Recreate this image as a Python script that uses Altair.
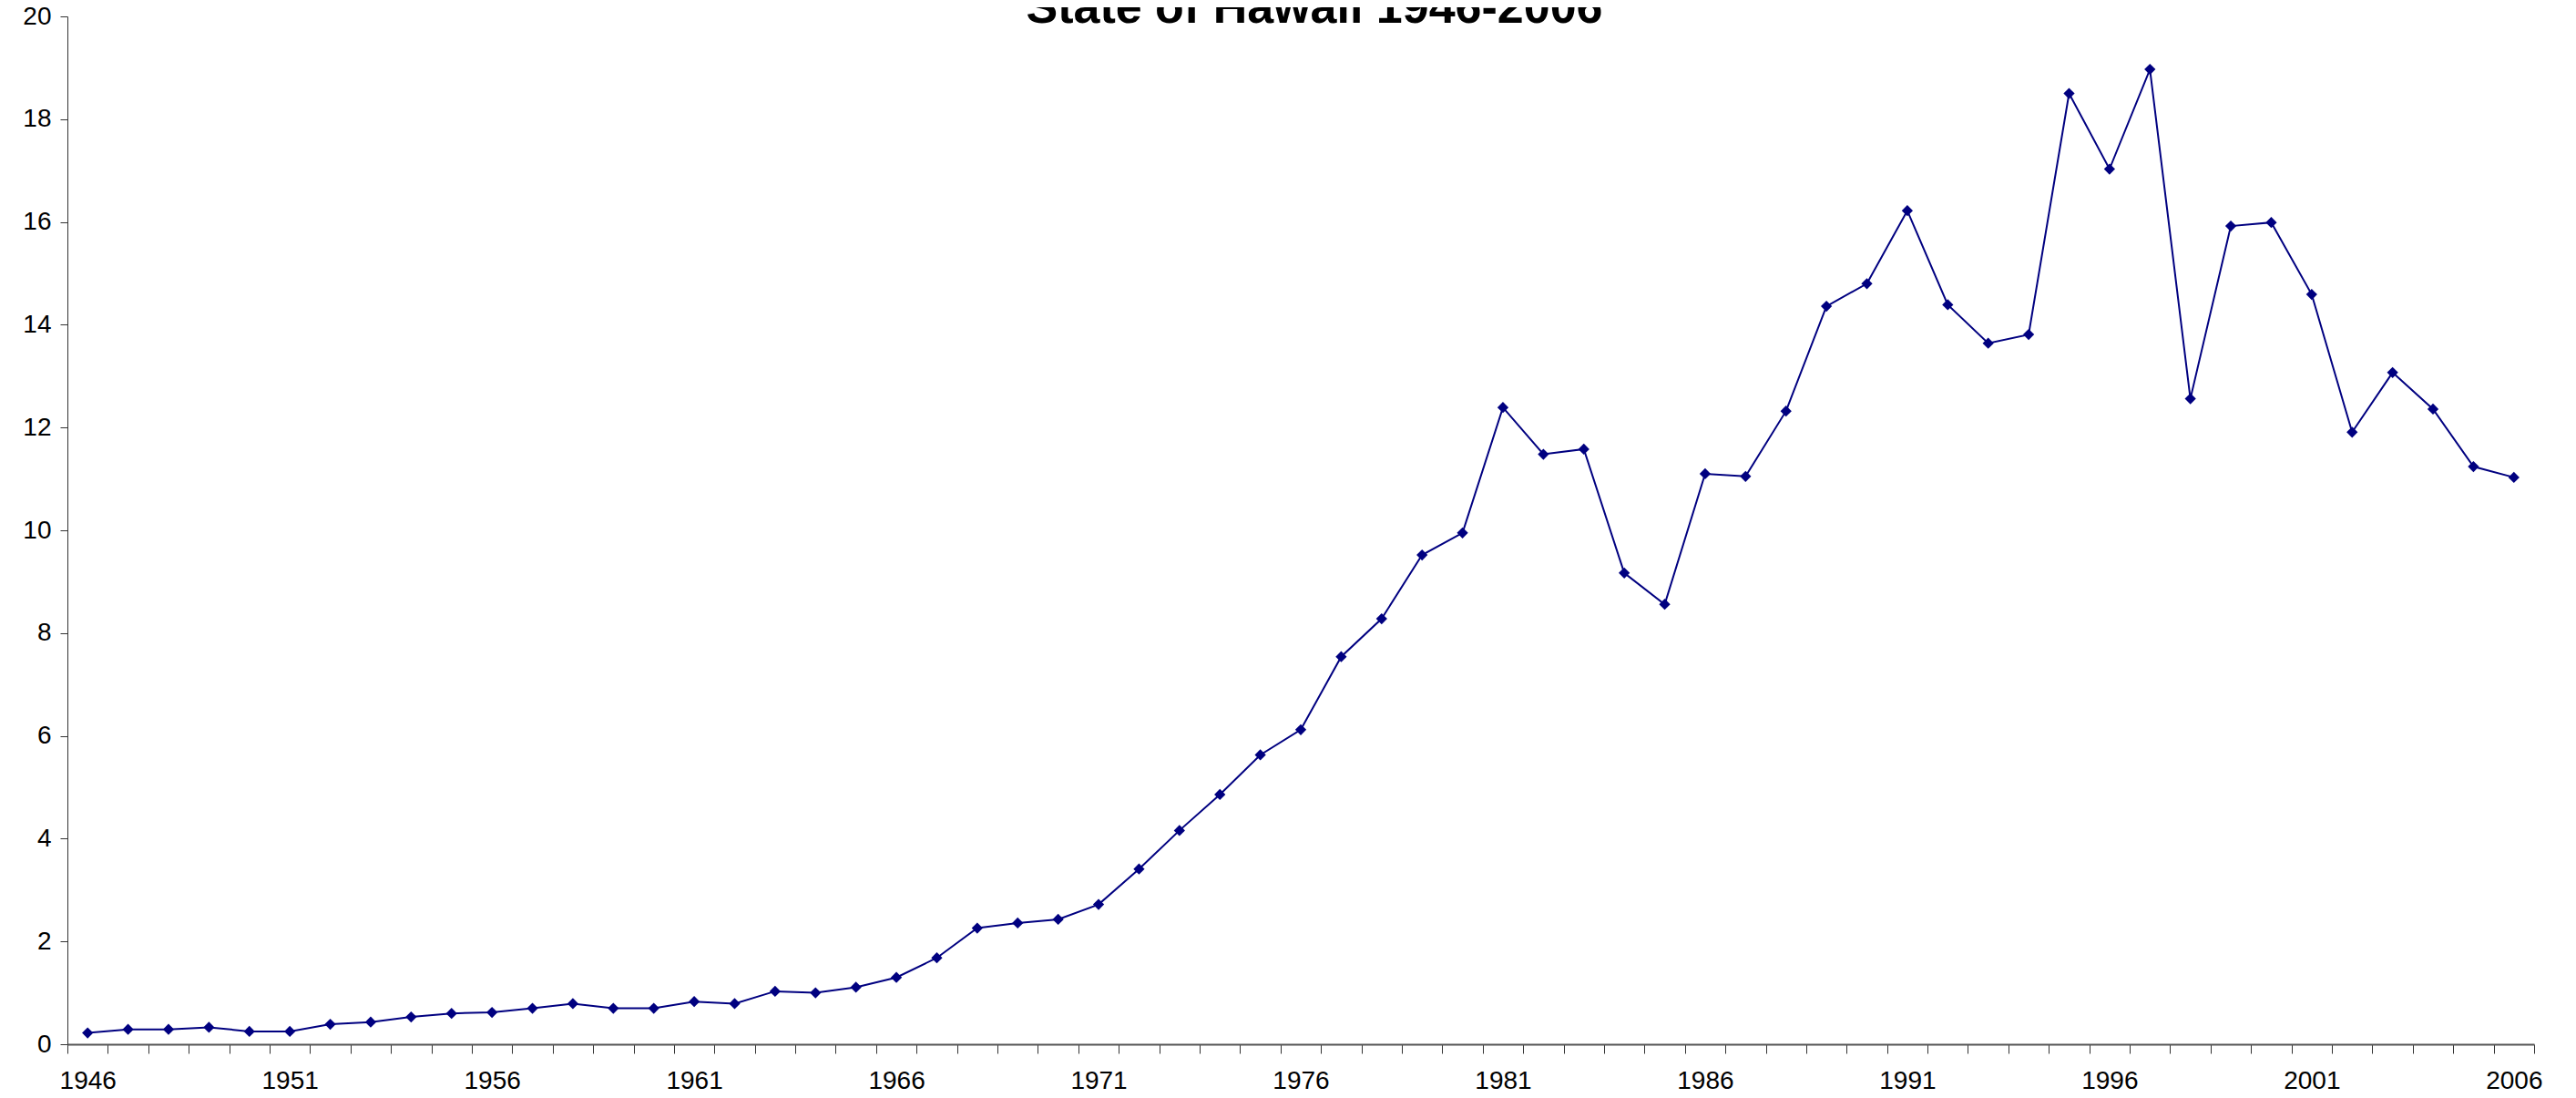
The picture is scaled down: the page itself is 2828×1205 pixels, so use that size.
import altair as alt
import pandas as pd

years = list(range(1946, 2007))
values = [
    0.22, 0.29, 0.29, 0.33, 0.25, 0.25, 0.39, 0.43, 0.53, 0.60,
    0.62, 0.70, 0.79, 0.70, 0.70, 0.83, 0.79, 1.03, 1.00, 1.11,
    1.30, 1.68, 2.26, 2.36, 2.43, 2.72, 3.41, 4.16, 4.86, 5.63,
    6.12, 7.54, 8.28, 9.52, 9.95, 12.39, 11.48, 11.58, 9.17, 8.56,
    11.10, 11.05, 12.32, 14.36, 14.80, 16.22, 14.39, 13.64, 13.81, 18.50,
    17.03, 18.97, 12.56, 15.92, 15.99, 14.59, 11.91, 13.07, 12.36, 11.24,
    11.03,
]
y_ticks = [0, 2, 4, 6, 8, 10, 12, 14, 16, 18, 20]
title_text = ["State of Hawaii 1946-2006"]

df = pd.DataFrame({"year": years, "value": values})
title_df = pd.DataFrame({"t": title_text})

FONT = "Liberation Sans"
NAVY = "#000080"

x_enc = alt.X(
    "year:O",
    scale=alt.Scale(paddingInner=0, paddingOuter=0),
    axis=alt.Axis(
        title=None,
        labelAngle=0,
        labelExpr="(datum.value - 1946) % 5 == 0 ? datum.label : ''",
        labelFont=FONT,
        labelFontSize=28,
        labelColor="#000000",
        labelPadding=16,
        tickBand="extent",
        tickSize=10,
        tickColor="#333333",
        domainColor="#555555",
        domainWidth=2,
        grid=False,
        labelOverlap=False,
    ),
)
y_enc = alt.Y(
    "value:Q",
    scale=alt.Scale(domain=[0, 20], nice=False),
    axis=alt.Axis(
        title=None,
        values=y_ticks,
        labelFont=FONT,
        labelFontSize=28,
        labelColor="#000000",
        labelPadding=10,
        tickSize=8,
        tickColor="#333333",
        domainColor="#333333",
        grid=False,
    ),
)

line = alt.Chart(df).mark_line(color=NAVY, strokeWidth=2).encode(x=x_enc, y=y_enc)
points = alt.Chart(df).mark_point(
    shape="diamond", filled=True, color=NAVY, size=150, opacity=1
).encode(x=x_enc, y=y_enc)

title = alt.Chart(title_df).mark_text(
    font=FONT, fontSize=52, fontWeight="bold", color="#000000",
    align="center", baseline="alphabetic",
).encode(text="t:N", x=alt.value(1369), y=alt.value(7))

chart = (
    alt.layer(line, points, title)
    .properties(
        width=2708,
        height=1128,
        autosize=alt.AutoSizeParams(type="none"),
        padding={"left": 66, "top": 10, "right": 30, "bottom": 54},
    )
    .configure_view(stroke=None)
)

chart.save("out.html", embed_options={"renderer": "svg", "actions": False})
